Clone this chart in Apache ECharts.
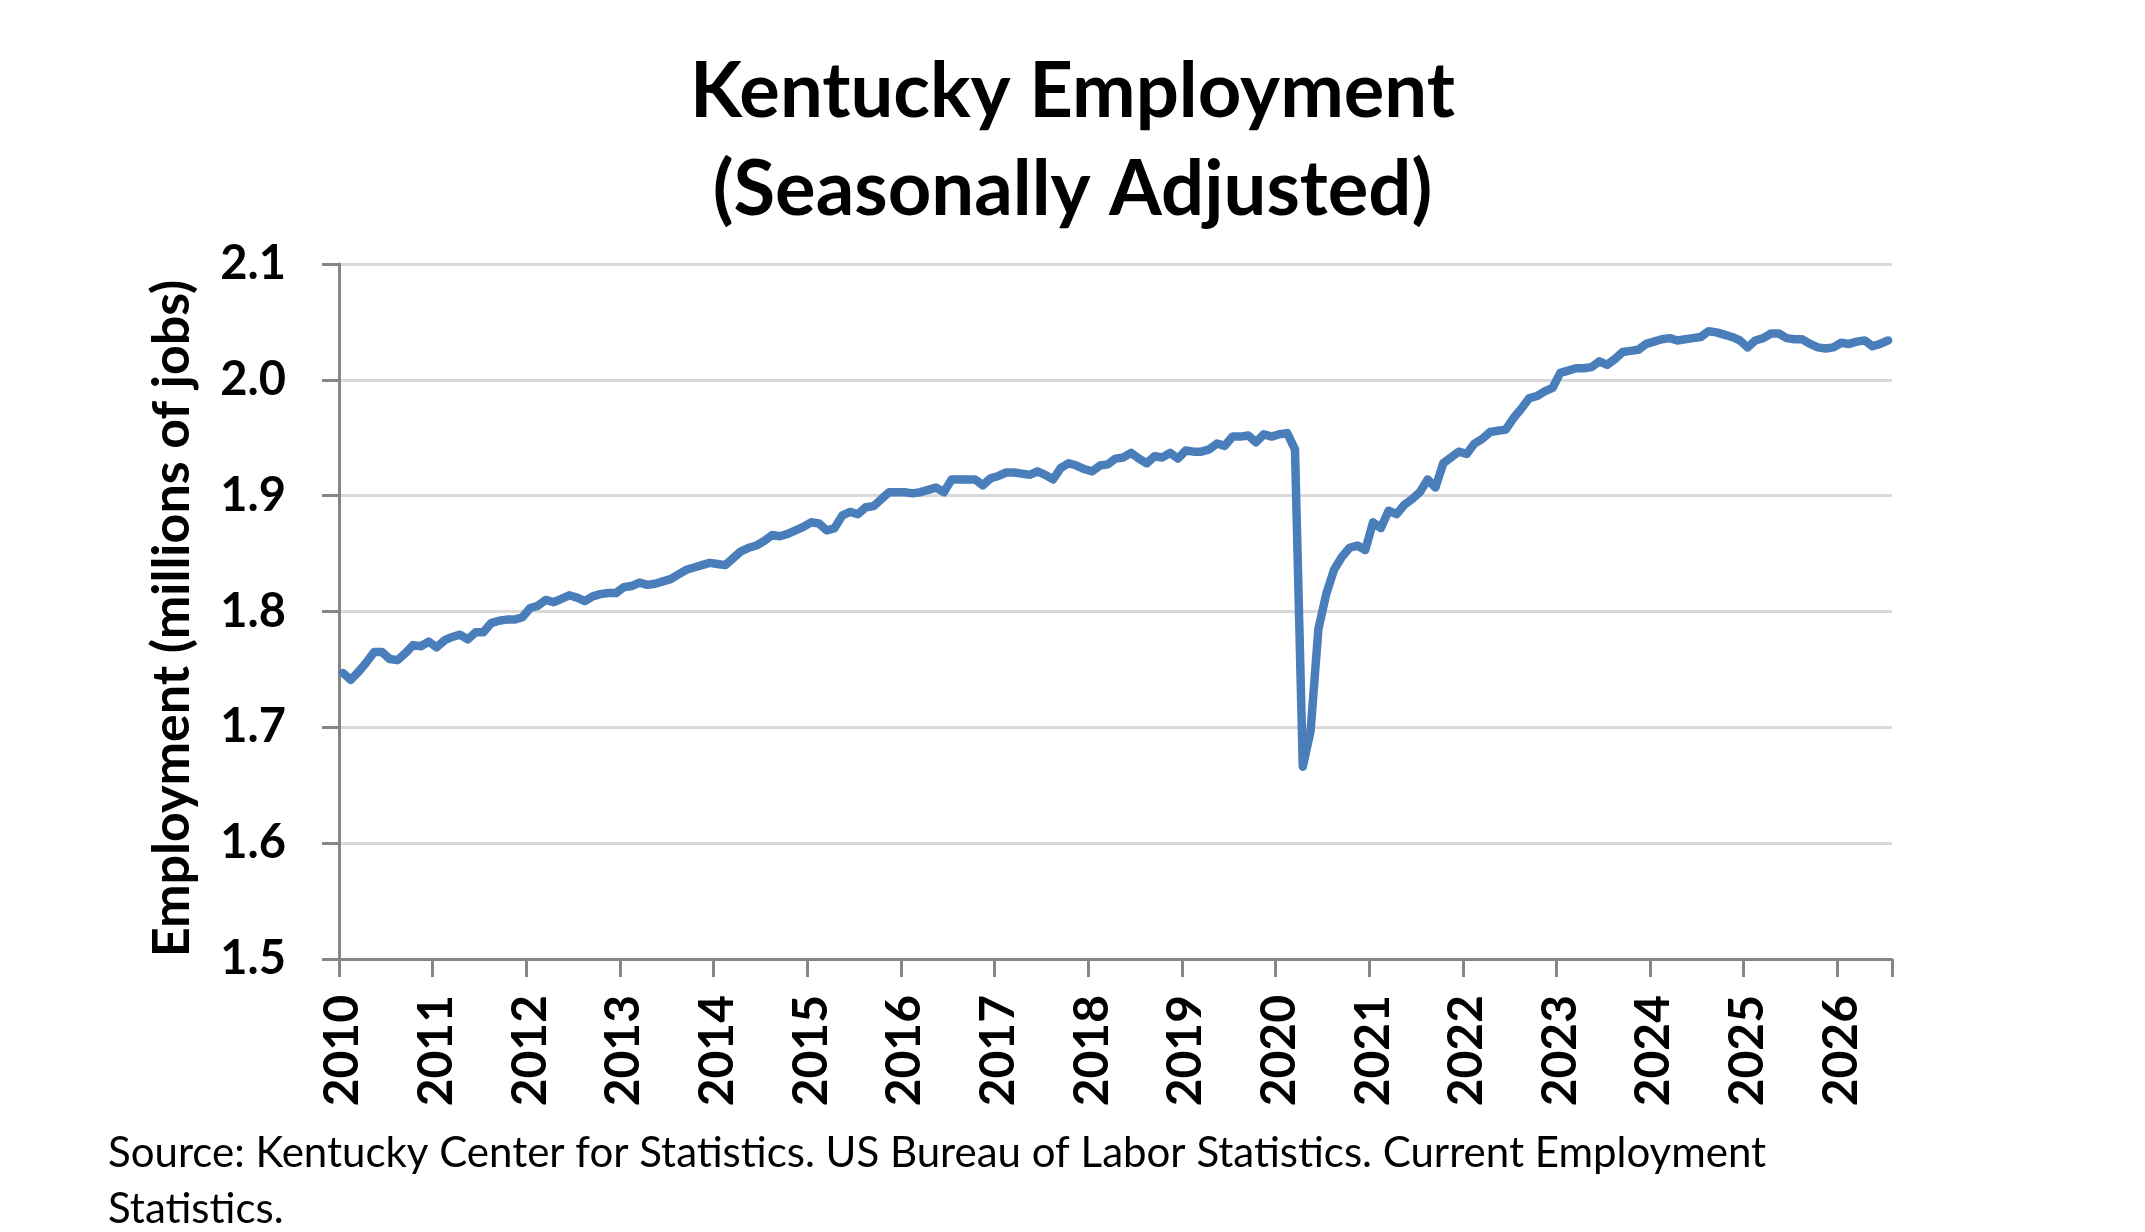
<!DOCTYPE html>
<html>
<head>
<meta charset="utf-8">
<title>Kentucky Employment</title>
<script src="https://cdn.jsdelivr.net/npm/echarts@6/dist/echarts.min.js"></script>
<style>
  html, body { margin: 0; padding: 0; background: #fff; }
  #chart { width: 2145px; height: 1232px; }
</style>
</head>
<body>
<div id="chart"></div>
<script>
// monthly data, Jan 2010 .. Jul 2026 (millions of jobs)
const startYear = 2010;
const monthCount = 199;

const employment = [
  1.747, 1.741, 1.748, 1.756, 1.765, 1.765, 1.759, 1.758, 1.764, 1.771, 1.770, 1.774,
  1.769, 1.775, 1.778, 1.780, 1.776, 1.782, 1.782, 1.790, 1.792, 1.793, 1.793, 1.795,
  1.803, 1.805, 1.810, 1.808, 1.811, 1.814, 1.812, 1.809, 1.813, 1.815, 1.816, 1.816,
  1.821, 1.822, 1.825, 1.823, 1.824, 1.826, 1.828, 1.832, 1.836, 1.838, 1.840, 1.842,
  1.841, 1.840, 1.846, 1.852, 1.855, 1.857, 1.861, 1.866, 1.865, 1.867, 1.870, 1.873,
  1.877, 1.876, 1.870, 1.872, 1.883, 1.886, 1.884, 1.890, 1.891, 1.897, 1.903, 1.903,
  1.903, 1.902, 1.903, 1.905, 1.907, 1.903, 1.914, 1.914, 1.914, 1.914, 1.909, 1.915,
  1.917, 1.920, 1.920, 1.919, 1.918, 1.921, 1.918, 1.914, 1.924, 1.928, 1.926, 1.923,
  1.921, 1.926, 1.927, 1.932, 1.933, 1.937, 1.932, 1.928, 1.934, 1.933, 1.937, 1.932,
  1.939, 1.938, 1.938, 1.940, 1.945, 1.943, 1.951, 1.951, 1.952, 1.946, 1.953, 1.951,
  1.953, 1.954, 1.940, 1.666, 1.697, 1.785, 1.815, 1.836, 1.847, 1.855, 1.857, 1.853,
  1.877, 1.872, 1.887, 1.884, 1.892, 1.897, 1.903, 1.914, 1.907, 1.928, 1.933, 1.938,
  1.936, 1.945, 1.949, 1.955, 1.956, 1.957, 1.967, 1.975, 1.984, 1.986, 1.990, 1.993,
  2.006, 2.008, 2.010, 2.010, 2.011, 2.016, 2.013, 2.018, 2.024, 2.025, 2.026, 2.031,
  2.033, 2.035, 2.036, 2.034, 2.035, 2.036, 2.037, 2.042, 2.041, 2.039, 2.037, 2.034,
  2.028, 2.034, 2.036, 2.040, 2.040, 2.036, 2.035, 2.035, 2.031, 2.028, 2.027, 2.028,
  2.032, 2.031, 2.033, 2.034, 2.029, 2.031, 2.034
];

// month categories like "2010-01"
const months = [];
for (let i = 0; i < monthCount; i++) {
  const y = startYear + Math.floor(i / 12);
  const m = (i % 12) + 1;
  months.push(y + '-' + (m < 10 ? '0' + m : m));
}

const yTicks = { min: 1.5, max: 2.1, step: 0.1 };

const titleText = 'Kentucky Employment\n(Seasonally Adjusted)';
const yAxisName = 'Employment (millions of jobs)';
const sourceText = 'Source: Kentucky Center for Statistics. US Bureau of Labor Statistics. Current Employment\nStatistics.';

const FONT = 'Lato, "Open Sans", sans-serif';
const axisGray = '#868686';

const chart = echarts.init(document.getElementById('chart'), null, { renderer: 'canvas' });

const isJanuary = (idx) => idx % 12 === 0;

chart.setOption({
  animation: false,
  backgroundColor: '#ffffff',
  title: [
    {
      text: titleText,
      left: 'center',
      top: 38,
      textStyle: {
        fontFamily: FONT,
        fontSize: 76,
        fontWeight: 'bold',
        color: '#000',
        lineHeight: 98
      }
    },
    {
      text: sourceText,
      left: 103,
      top: 1120,
      textStyle: {
        fontFamily: FONT,
        fontSize: 42,
        fontWeight: 'normal',
        color: '#000',
        lineHeight: 56
      }
    }
  ],
  grid: {
    left: 339,
    right: 253,
    top: 264,
    bottom: 273,
    containLabel: false
  },
  xAxis: {
    type: 'category',
    data: months,
    boundaryGap: true,
    axisLine: { show: true, lineStyle: { color: axisGray, width: 3 } },
    axisTick: {
      show: true,
      interval: (idx) => isJanuary(idx),
      length: 18,
      lineStyle: { color: axisGray, width: 3 }
    },
    axisLabel: {
      interval: (idx) => isJanuary(idx),
      rotate: 90,
      margin: 36,
      formatter: (v) => v.slice(0, 4),
      fontFamily: FONT,
      fontSize: 48,
      fontWeight: 'bold',
      color: '#000'
    },
    splitLine: { show: false }
  },
  yAxis: {
    type: 'value',
    min: yTicks.min,
    max: yTicks.max,
    interval: yTicks.step,
    name: yAxisName,
    nameLocation: 'middle',
    nameGap: 141,
    nameTextStyle: {
      fontFamily: FONT,
      fontSize: 52,
      fontWeight: 'bold',
      color: '#000',
      padding: [0, 14, 0, 0]
    },
    axisLine: { show: true, lineStyle: { color: axisGray, width: 3 } },
    axisTick: { show: true, length: 17, lineStyle: { color: axisGray, width: 3 } },
    axisLabel: {
      margin: 53,
      formatter: (v) => v.toFixed(1),
      fontFamily: FONT,
      fontSize: 47,
      fontWeight: 'bold',
      color: '#000'
    },
    splitLine: { show: true, lineStyle: { color: '#d9d9d9', width: 3 } }
  },
  series: [
    {
      name: 'Employment',
      type: 'line',
      data: employment,
      symbol: 'none',
      smooth: false,
      lineStyle: { color: '#4a7ebb', width: 8.5, cap: 'round', join: 'round' },
      z: 3
    }
  ]
});
</script>
</body>
</html>
